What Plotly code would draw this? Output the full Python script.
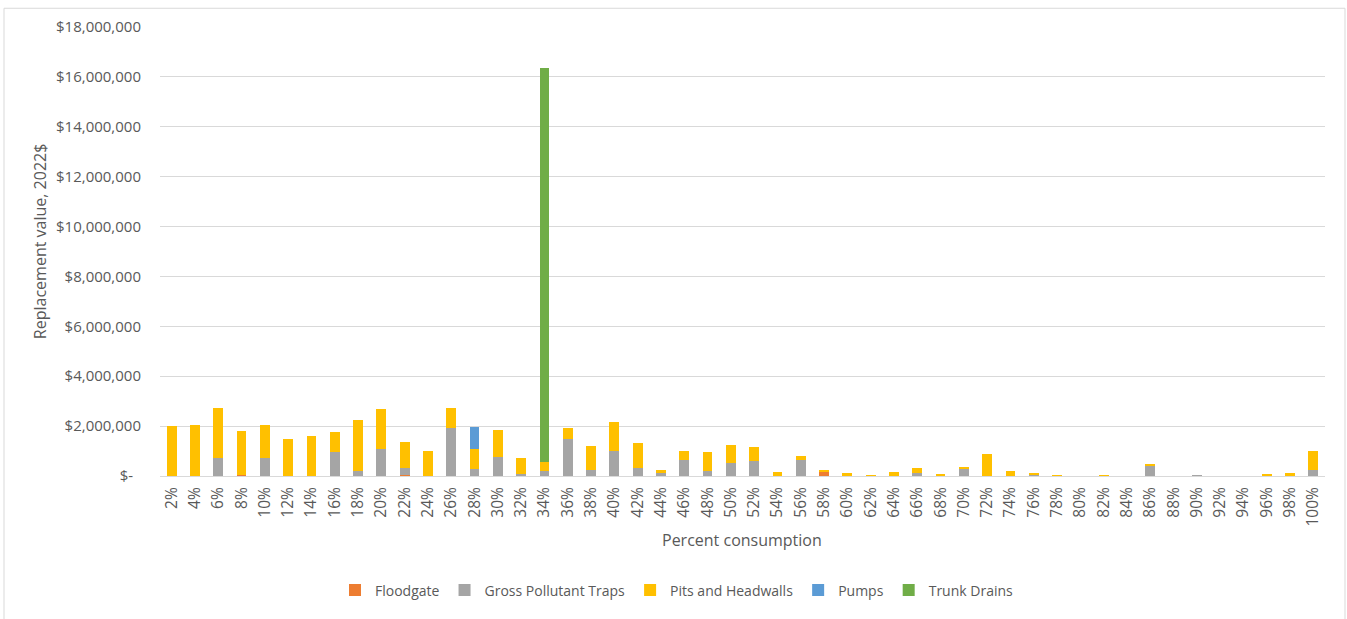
import plotly.graph_objects as go

categories = ["2%", "4%", "6%", "8%", "10%", "12%", "14%", "16%", "18%", "20%",
              "22%", "24%", "26%", "28%", "30%", "32%", "34%", "36%", "38%", "40%",
              "42%", "44%", "46%", "48%", "50%", "52%", "54%", "56%", "58%", "60%",
              "62%", "64%", "66%", "68%", "70%", "72%", "74%", "76%", "78%", "80%",
              "82%", "84%", "86%", "88%", "90%", "92%", "94%", "96%", "98%", "100%"]

floodgate = [0, 0, 0, 30000, 0, 0, 0, 0, 0, 0,
             30000, 0, 0, 0, 0, 0, 0, 0, 20000, 0,
             0, 0, 0, 0, 0, 0, 0, 0, 160000, 0,
             0, 0, 0, 0, 0, 0, 0, 0, 0, 0,
             0, 0, 0, 0, 0, 0, 0, 0, 0, 0]

gross_pollutant_traps = [0, 0, 710000, 0, 710000, 0, 0, 960000, 190000, 1090000,
                         300000, 0, 1930000, 280000, 750000, 80000, 190000, 1480000, 230000, 990000,
                         330000, 120000, 640000, 190000, 530000, 600000, 0, 640000, 0, 0,
                         0, 0, 110000, 0, 320000, 0, 0, 40000, 20000, 0,
                         0, 0, 410000, 0, 40000, 0, 0, 30000, 0, 250000]

pits_and_headwalls = [2000000, 2030000, 2020000, 1760000, 1320000, 1480000, 1590000, 800000, 2060000, 1580000,
                      1030000, 1010000, 800000, 790000, 1080000, 630000, 370000, 430000, 950000, 1160000,
                      980000, 120000, 350000, 770000, 700000, 560000, 150000, 150000, 80000, 110000,
                      40000, 150000, 210000, 80000, 40000, 880000, 210000, 80000, 20000, 0,
                      40000, 0, 60000, 0, 0, 0, 0, 50000, 120000, 740000]

pumps = [0] * 13 + [900000] + [0] * 36

trunk_drains = [0] * 16 + [15780000] + [0] * 33

series = [
    ("Floodgate", floodgate, "#ED7D31"),
    ("Gross Pollutant Traps", gross_pollutant_traps, "#A5A5A5"),
    ("Pits and Headwalls", pits_and_headwalls, "#FFC000"),
    ("Pumps", pumps, "#5B9BD5"),
    ("Trunk Drains", trunk_drains, "#70AD47"),
]

y_tick_vals = [0, 2000000, 4000000, 6000000, 8000000, 10000000,
               12000000, 14000000, 16000000, 18000000]
y_tick_text = ["$-  ", "$2,000,000", "$4,000,000", "$6,000,000", "$8,000,000",
               "$10,000,000", "$12,000,000", "$14,000,000", "$16,000,000", "$18,000,000"]

font_family = "Open Sans, Liberation Sans, sans-serif"
text_color = "#595959"

fig = go.Figure()
for name, vals, color in series:
    fig.add_trace(go.Bar(x=categories, y=vals, name=name, marker_color=color,
                         marker_line_width=0))

L, R, T, B = 160, 22, 27, 137
W, H = 1347, 619
pw, ph = W - L - R, H - T - B

fig.update_layout(
    width=W, height=H,
    margin=dict(l=L, r=R, t=T, b=B, pad=0),
    barmode="stack",
    bargap=0.58,
    plot_bgcolor="white",
    paper_bgcolor="white",
    font=dict(family=font_family, color=text_color, size=14),
    legend=dict(orientation="h", x=(677 - L) / pw, xanchor="center",
                y=(480 - 596) / ph, yanchor="middle",
                traceorder="normal",
                font=dict(size=14, color=text_color),
                itemwidth=30, tracegroupgap=0),
    xaxis=dict(
        type="category",
        tickangle=-90,
        tickfont=dict(size=15.5, color=text_color),
        showgrid=False,
        showline=True, linecolor="#d9d9d9", linewidth=1,
        ticks="", ticklabelstandoff=4,
    ),
    yaxis=dict(
        range=[0, 18000000],
        tickvals=y_tick_vals,
        ticktext=y_tick_text,
        tickfont=dict(size=15, color=text_color),
        showgrid=True, gridcolor="#d9d9d9", gridwidth=1,
        zeroline=False, showline=False,
        ticks="", ticklabelstandoff=18,
    ),
    annotations=[
        dict(text="Percent consumption", xref="paper", yref="paper",
             x=(742 - L) / pw, y=(480 - 545) / ph, xanchor="center", yanchor="middle",
             showarrow=False, font=dict(size=16, color=text_color)),
        dict(text="Replacement value, 2022$", xref="paper", yref="paper",
             x=(40 - L) / pw, y=(480 - 243) / ph, xanchor="center", yanchor="middle",
             textangle=-90, showarrow=False, font=dict(size=16, color=text_color)),
    ],
    shapes=[
        dict(type="rect", xref="paper", yref="paper",
             x0=(4 - L) / pw, x1=(1345 - L) / pw,
             y0=(480 - 630) / ph, y1=(480 - 6) / ph,
             line=dict(color="#d9d9d9", width=1), fillcolor="rgba(0,0,0,0)",
             layer="below"),
    ],
)

fig.write_html("out.html")
